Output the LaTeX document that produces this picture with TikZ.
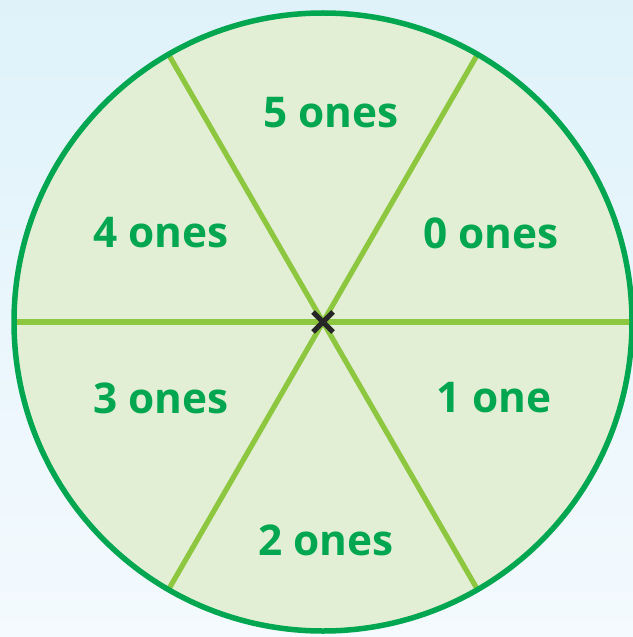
\documentclass[tikz,border=0pt]{standalone}
\usepackage{fontspec}
\setmainfont{Open Sans}
\definecolor{rim}{HTML}{00A650}
\definecolor{spoke}{HTML}{8DC63F}
\definecolor{disc}{HTML}{E3EFD4}
\definecolor{sky}{HTML}{DFF2FA}
\definecolor{skylow}{HTML}{F4FAFE}
\tikzset{
  lbl/.style={text=rim, font=\fontsize{42.5}{42.5}\selectfont\bfseries, inner sep=0pt},
  spk/.style={draw=spoke, line width=5.2bp},
}
\begin{document}
\begin{tikzpicture}[x=1bp, y=-1bp]
  \useasboundingbox (0,0) rectangle (633,637);
  \shade[top color=sky, bottom color=skylow] (0,0) rectangle (633,637);
  \clip (0,0) rectangle (633,637);
  \coordinate (c) at (323,322);
  % disc
  \fill[disc] (c) circle (309);
  % spokes
  \draw[spk] (c) ++(180:309) -- ++(0:618);
  \foreach \a in {60,120,240,300}
    \draw[spk] (c) -- ++(\a:309);
  \draw[draw=rim, line width=5.5bp] (c) circle (309);
  % centre mark
  \draw[line width=5bp, black!85] (c) ++(-10,-10) -- ++(20,20) (c) ++(-10,10) -- ++(20,-20);
  % labels
  \node[lbl] (five)  at (331,113) {5 ones};
  \node[lbl] (four)  at (161,233) {4 ones};
  \node[lbl] (zero)  at (491,233) {0 ones};
  \node[lbl] (three) at (161,398) {3 ones};
  \node[lbl] (one)   at (494,398) {1 one};
  \node[lbl] (two)   at (326,540) {2 ones};
\end{tikzpicture}
\end{document}
